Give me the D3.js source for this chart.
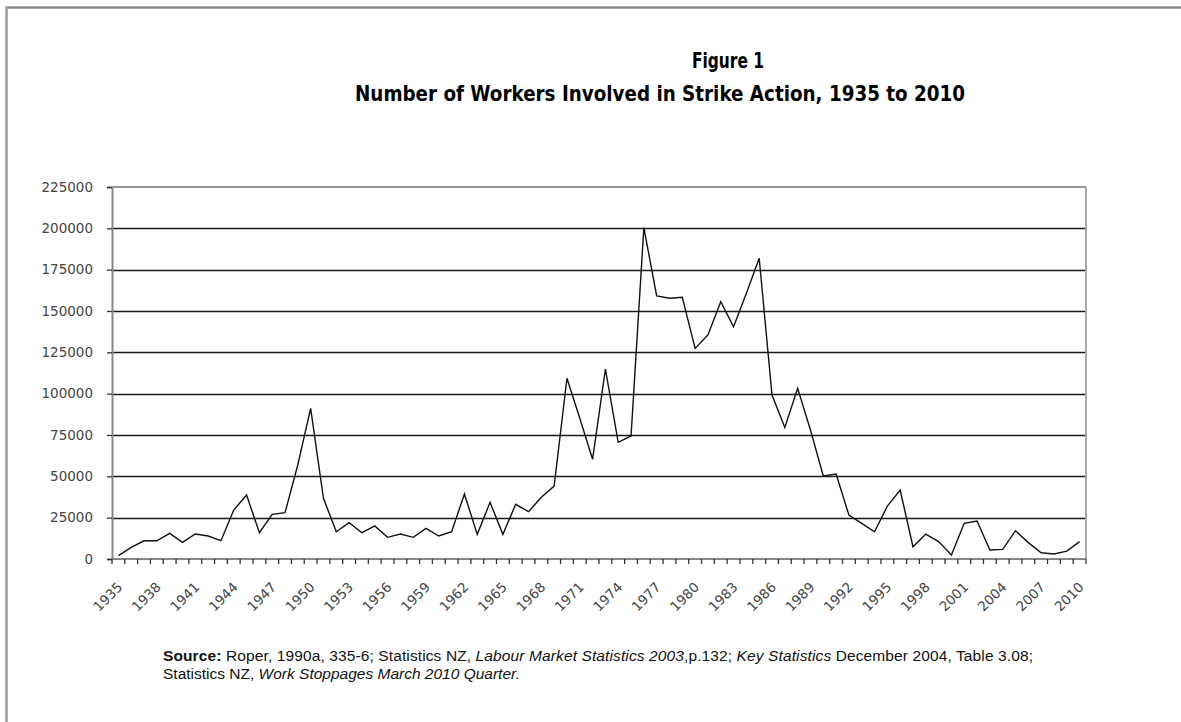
<!DOCTYPE html>
<html>
<head>
<meta charset="utf-8">
<script src="https://cdn.jsdelivr.net/npm/d3@7"></script>
<style>
  html, body { margin: 0; padding: 0; background: #fff; }
  svg { display: block; }
</style>
</head>
<body>
<svg id="chart" width="1181" height="722"></svg>
<script>
// ---- Data ----
const years = d3.range(1935, 2011);
const workers = [
  2000, 7000, 11000, 11000, 15500, 10100, 15100, 13900, 11100, 29600,
  38700, 15900, 27000, 28000, 57000, 91100, 36700, 16500, 22000, 15900,
  20000, 13100, 15100, 13100, 18500, 13900, 16500, 39300, 14900, 34300,
  14900, 33100, 28600, 37300, 44100, 109300, 85100, 60300, 114900, 70600,
  74400, 200400, 159100, 157700, 158300, 127400, 135500, 155600, 140500, 160700,
  181900, 99200, 79600, 103200, 78000, 50200, 51400, 26600, 21600, 16500,
  32000, 41700, 7400, 15100, 10500, 2400, 21600, 23000, 5400, 5800,
  17100, 9900, 3800, 3000, 4800, 10500
];
const yTicks = [0, 25000, 50000, 75000, 100000, 125000, 150000, 175000, 200000, 225000];
const xLabelYears = d3.range(1935, 2011, 3);
const titleLines = ["Figure 1", "Number of Workers Involved in Strike Action, 1935 to 2010"];

// ---- Layout ----
const svg = d3.select("#chart");
const L = 112, R = 1086, T = 187, B = 559;

const x = d3.scaleBand().domain(years).range([L, R]).padding(0);
const y = d3.scaleLinear().domain([0, 225000]).range([B, T]);

// outer frame
svg.append("line").attr("x1", 6).attr("x2", 1181).attr("y1", 7.5).attr("y2", 7.5)
  .attr("stroke", "#8a8a8a").attr("stroke-width", 2.5);
svg.append("line").attr("x1", 6.5).attr("x2", 6.5).attr("y1", 6.5).attr("y2", 722)
  .attr("stroke", "#9a9a9a").attr("stroke-width", 2.5);

// title
const titleFont = "'Liberation Sans Narrow', 'DejaVu Sans Condensed', sans-serif";
svg.append("text").attr("x", 728).attr("y", 68)
  .attr("text-anchor", "middle")
  .attr("font-family", titleFont)
  .attr("font-weight", "bold").attr("font-size", 22).attr("fill", "#000")
  .attr("textLength", 72).attr("lengthAdjust", "spacingAndGlyphs")
  .text(titleLines[0]);
svg.append("text").attr("x", 660).attr("y", 101)
  .attr("text-anchor", "middle")
  .attr("font-family", titleFont)
  .attr("font-weight", "bold").attr("font-size", 22).attr("fill", "#000")
  .attr("textLength", 610).attr("lengthAdjust", "spacingAndGlyphs")
  .text(titleLines[1]);

// gridlines
svg.append("g").selectAll("line")
  .data(yTicks.filter(d => d > 0 && d < 225000))
  .join("line")
  .attr("x1", L).attr("x2", R)
  .attr("y1", d => Math.round(y(d)) + 0.5).attr("y2", d => Math.round(y(d)) + 0.5)
  .attr("stroke", "#1a1a1a").attr("stroke-width", 1.3);

// plot border (top & right)
svg.append("line").attr("x1", L).attr("x2", R).attr("y1", y(225000)).attr("y2", y(225000))
  .attr("stroke", "#999").attr("stroke-width", 2);
svg.append("line").attr("x1", R).attr("x2", R).attr("y1", T).attr("y2", B)
  .attr("stroke", "#aaa").attr("stroke-width", 2);

// y axis
const yAxis = d3.axisLeft(y).tickValues(yTicks).tickSize(5).tickPadding(14).tickFormat(d3.format("d"));
const gy = svg.append("g").attr("transform", `translate(${L},0)`).call(yAxis);
gy.select(".domain").attr("stroke", "#888").attr("stroke-width", 2);
gy.selectAll(".tick line").attr("stroke", "#333").attr("stroke-width", 1.3);
gy.selectAll(".tick text").attr("font-family", "'DejaVu Sans', Verdana, sans-serif")
  .attr("font-size", 13.5).attr("fill", "#444");

// x axis: baseline + ticks at category boundaries
svg.append("line").attr("x1", L).attr("x2", R).attr("y1", B).attr("y2", B)
  .attr("stroke", "#888").attr("stroke-width", 2);
const boundaries = years.map(yr => x(yr)).concat([R]);
svg.append("g").selectAll("line").data(boundaries).join("line")
  .attr("x1", d => d).attr("x2", d => d).attr("y1", B).attr("y2", B + 5)
  .attr("stroke", "#333").attr("stroke-width", 1.3);

// x labels
svg.append("g").selectAll("text").data(xLabelYears).join("text")
  .attr("transform", d => `translate(${x(d) + x.bandwidth() / 2 + 5},${B + 29}) rotate(-45)`)
  .attr("text-anchor", "end")
  .attr("font-family", "'DejaVu Sans', Verdana, sans-serif")
  .attr("font-size", 13.5).attr("fill", "#444")
  .text(d => d);

// line
const line = d3.line()
  .x((d, i) => x(years[i]) + x.bandwidth() / 2)
  .y(d => y(d));
svg.append("path").datum(workers)
  .attr("d", line).attr("fill", "none")
  .attr("stroke", "#111").attr("stroke-width", 1.4).attr("stroke-linejoin", "miter");

// source
const srcFont = "'Liberation Sans', Arial, sans-serif";
const src = svg.append("text").attr("x", 163).attr("y", 661)
  .attr("font-family", srcFont).attr("font-size", 15.5).attr("fill", "#111")
  .attr("textLength", 870).attr("lengthAdjust", "spacing");
src.append("tspan").attr("font-weight", "bold").text("Source:");
src.append("tspan").text(" Roper, 1990a, 335-6; Statistics NZ, ");
src.append("tspan").attr("font-style", "italic").text("Labour Market Statistics 2003");
src.append("tspan").text(",p.132; ");
src.append("tspan").attr("font-style", "italic").text("Key Statistics");
src.append("tspan").text(" December 2004, Table 3.08;");
const src2 = svg.append("text").attr("x", 163).attr("y", 679)
  .attr("font-family", srcFont).attr("font-size", 15.5).attr("fill", "#111");
src2.append("tspan").text("Statistics NZ, ");
src2.append("tspan").attr("font-style", "italic").text("Work Stoppages March 2010 Quarter.");
</script>
</body>
</html>
